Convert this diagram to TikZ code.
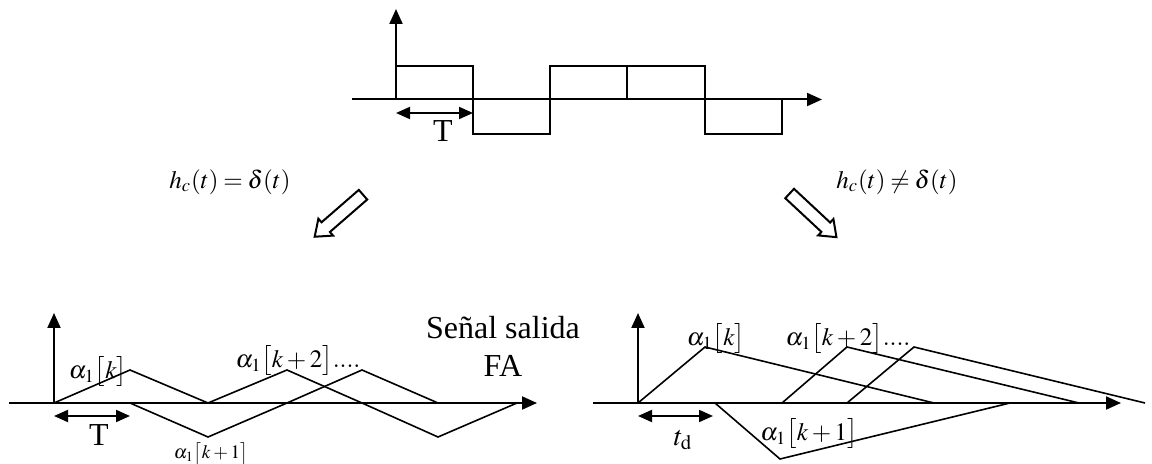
\documentclass[tikz,border=0pt]{standalone}
\usepackage{mathptmx}
\usepackage{fontspec}
\setmainfont{Liberation Serif}
\usepackage{tikz}
\usetikzlibrary{arrows.meta, shapes.arrows}

\newcommand{\tightmath}{\medmuskip=2.5mu\relax\thickmuskip=3.5mu\relax}

\begin{document}
\begin{tikzpicture}[
    x=0.5pt, y=-0.5pt,
    axis/.style={-{Triangle[length=7.5pt,width=6.5pt]}, line width=1pt},
    wave/.style={line width=0.8pt, line join=miter},
    span/.style={{Triangle[length=7pt,width=6pt]}-{Triangle[length=7pt,width=6pt]}, line width=1pt},
    lbl/.style={inner sep=0pt, font=\fontsize{12.5}{15}\selectfont\tightmath},
    small/.style={inner sep=0pt, font=\fontsize{9.5}{11}\selectfont\tightmath},
    hollow/.style={
        single arrow,
        draw,
        line width=1pt,
        inner sep=2.7pt,
        minimum height=32pt,
        single arrow head extend=2.4pt,
        single arrow tip angle=75
    }
]
    \useasboundingbox (0,0) rectangle (1152,464);

    % Input pulse train
    \coordinate (top0) at (396,99.5);
    \coordinate (topL) at (352,99.5);
    \coordinate (topR) at (822,99.5);
    \coordinate (topUp) at (396,9);
    \draw [axis] (topL) -- (topR);
    \draw [axis] (top0) -- (topUp);
    \draw [wave] (top0) -- (396,66) -- (473,66) -- (473,134) -- (550,134) -- (550,66)
        -- (705,66) -- (705,134) -- (782,134) -- (782,99.5);
    \draw [wave] (627,66) -- (627,99.5);
    \coordinate (topT1) at (396,113);
    \coordinate (topT2) at (473,113);
    \draw [span] (topT1) -- (topT2);
    \node [inner sep=0pt, font=\fontsize{16}{18}\selectfont] (topT) at (443,131) {T};

    % Channel cases
    \node [lbl] (ideal) at (230,182) {$h_c(t)=\delta(t)$};
    \node [lbl] (real) at (897,182) {$h_c(t)\neq\delta(t)$};
    \node [hollow, rotate=221] (arrL) at (342,213) {};
    \node [hollow, rotate=-43] (arrR) at (810,212.5) {};

    % Left output: ideal channel
    \coordinate (bl0) at (54,403);
    \coordinate (blL) at (9,403);
    \coordinate (blR) at (537,403);
    \coordinate (blUp) at (54,313);
    \draw [axis] (blL) -- (blR);
    \draw [axis] (bl0) -- (blUp);
    \draw [wave] (bl0) -- (130,370) -- (208,403) -- (287,370) -- (362,403) -- (438,437) -- (517,403);
    \draw [wave] (130,403) -- (208,437) -- (287,403) -- (362,370) -- (438,403);
    \coordinate (blT1) at (54,416);
    \coordinate (blT2) at (130,416);
    \draw [span] (blT1) -- (blT2);
    \node [inner sep=0pt, font=\fontsize{16}{18}\selectfont] (blT) at (99,435) {T};
    \node [lbl] (blk) at (98,372) {$\alpha_1\big[k\big]$};
    \node [lbl] (blk2) at (298,361) {$\alpha_1\big[k+2\big]....$};
    \node [small] (blk1) at (211,454) {$\alpha_1\big[k+1\big]$};
    \node [align=center, inner sep=0pt, font=\fontsize{16}{19}\selectfont] (outFA) at (503,346)
        {Señal salida\\FA};

    % Right output: dispersive channel
    \coordinate (br0) at (638,403);
    \coordinate (brL) at (593,403);
    \coordinate (brR) at (1121,403);
    \coordinate (brUp) at (638,313);
    \draw [axis] (brL) -- (brR);
    \draw [axis] (br0) -- (brUp);
    \draw [wave] (br0) -- (705,347) -- (934,403);
    \draw [wave] (715,403) -- (780,459) -- (1010,403);
    \draw [wave] (782,403) -- (847,347) -- (1079,403);
    \draw [wave] (847,403) -- (914,347) -- (1145,403);
    \coordinate (brT1) at (638,416);
    \coordinate (brT2) at (713,416);
    \draw [span] (brT1) -- (brT2);
    \node [inner sep=0pt, font=\fontsize{14}{16}\selectfont] (brtd) at (683,440) {$t_{\mathrm{d}}$};
    \node [lbl] (brk) at (716,339) {$\alpha_1\big[k\big]$};
    \node [lbl] (brk2) at (848,339) {$\alpha_1\big[k+2\big]....$};
    \node [lbl] (brk1) at (809,434) {$\alpha_1\big[k+1\big]$};

\end{tikzpicture}
\end{document}
